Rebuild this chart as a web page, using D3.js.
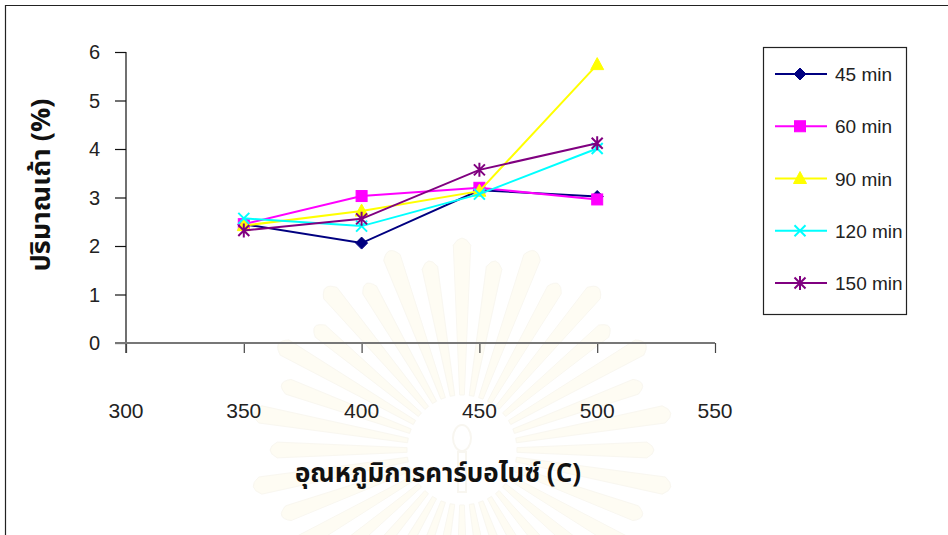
<!DOCTYPE html>
<html>
<head>
<meta charset="utf-8">
<script src="https://cdn.jsdelivr.net/npm/d3@7"></script>
<style>
  html, body { margin: 0; padding: 0; background: #fff; }
  svg { display: block; }
  .tick-label { font-family: "Liberation Sans", Arial, sans-serif; fill: #222; }
  .thai { font-family: Tahoma, "Noto Sans Thai", "Noto Sans Thai UI", "Loma", "Garuda", "Noto Sans", "DejaVu Sans", sans-serif; font-weight: bold; fill: #111; }
</style>
</head>
<body>
<svg id="chart" width="948" height="535"></svg>
<script>
// Carbonisation temperature (°C) and ash content (%) for each holding time
const temperatures = [350, 400, 450, 500];
const seriesNames = ["45 min", "60 min", "90 min", "120 min", "150 min"];
const ash45  = [2.45, 2.06, 3.15, 3.02];
const ash60  = [2.45, 3.03, 3.20, 2.96];
const ash90  = [2.42, 2.72, 3.13, 5.74];
const ash120 = [2.57, 2.41, 3.07, 4.01];
const ash150 = [2.32, 2.56, 3.57, 4.12];
const xTicks = [300, 350, 400, 450, 500, 550];
const yTicks = [0, 1, 2, 3, 4, 5, 6];
const xTitle = "อุณหภูมิการคาร์บอไนซ์ (C)";
const yTitle = "ปริมาณเถ้า (%)";

const colors  = ["#000080", "#ff00ff", "#ffff00", "#00ffff", "#800080"];
const markers = ["diamond", "square", "triangle", "cross", "star"];
const allSeries = [ash45, ash60, ash90, ash120, ash150];

const svg = d3.select("#chart");

// very faint emblem in the page background
const emblem = svg.append("g").attr("transform", "translate(462,450)");
const rays = 36;
for (let i = 0; i < rays; i++) {
  const a = (i / rays) * 2 * Math.PI;
  const r0 = 55, r1 = 185 + (i % 2) * 20, w = 0.085;
  const p = d3.path();
  p.moveTo(r0 * Math.cos(a - w * 0.5), r0 * Math.sin(a - w * 0.5));
  p.lineTo(r1 * Math.cos(a - w * 0.5), r1 * Math.sin(a - w * 0.5));
  p.quadraticCurveTo((r1 + 14) * Math.cos(a), (r1 + 14) * Math.sin(a),
                     r1 * Math.cos(a + w * 0.5), r1 * Math.sin(a + w * 0.5));
  p.lineTo(r0 * Math.cos(a + w * 0.5), r0 * Math.sin(a + w * 0.5));
  p.closePath();
  emblem.append("path").attr("d", p.toString())
    .attr("fill", "#fefcf3").attr("stroke", "#f9f7f0").attr("stroke-width", 1);
}
emblem.append("ellipse").attr("cx", 0).attr("cy", -12).attr("rx", 9).attr("ry", 13)
  .attr("fill", "none").attr("stroke", "#f8f6f0").attr("stroke-width", 2);
emblem.append("rect").attr("x", -4).attr("y", 2).attr("width", 8).attr("height", 40)
  .attr("fill", "none").attr("stroke", "#f8f6f0").attr("stroke-width", 2);

// outer chart frame
svg.append("path").attr("d", "M5.5,535 V5.5 H948")
  .attr("fill", "none").attr("stroke", "#222").attr("stroke-width", 1.2);

// scales
const x = d3.scaleLinear().domain([300, 550]).range([126, 715]);
const y = d3.scaleLinear().domain([0, 6]).range([343, 52]);

// y axis
const yAxis = svg.append("g").attr("transform", "translate(126,0)")
  .call(d3.axisLeft(y).tickValues(yTicks).tickSize(11).tickSizeOuter(0).tickFormat(""));
yAxis.select(".domain").remove();
yAxis.selectAll(".tick line").attr("stroke", "#111").attr("stroke-width", 1.2);
svg.append("line").attr("x1", 126).attr("x2", 126).attr("y1", y(6)).attr("y2", 353)
  .attr("stroke", "#111").attr("stroke-width", 1.2);
svg.append("g").selectAll("text").data(yTicks).join("text")
  .attr("class", "tick-label")
  .attr("x", 100).attr("y", d => y(d) + 7)
  .attr("text-anchor", "end").attr("font-size", 20)
  .text(d => d);

// x axis
const xAxis = svg.append("g").attr("transform", `translate(0,${y(0)})`)
  .call(d3.axisBottom(x).tickValues(xTicks).tickSize(10).tickSizeOuter(0).tickFormat(""));
xAxis.select(".domain").remove();
xAxis.selectAll(".tick line").attr("stroke", "#444").attr("stroke-width", 1.2);
svg.append("line").attr("x1", 115).attr("x2", x(550)).attr("y1", y(0)).attr("y2", y(0))
  .attr("stroke", "#777").attr("stroke-width", 2);
svg.append("g").selectAll("text").data(xTicks).join("text")
  .attr("class", "tick-label")
  .attr("x", d => x(d)).attr("y", 418)
  .attr("text-anchor", "middle").attr("font-size", 21)
  .text(d => d);

// axis titles
svg.append("text").attr("class", "thai")
  .attr("x", 438).attr("y", 482).attr("text-anchor", "middle").attr("font-size", 26)
  .text(xTitle);
svg.append("text").attr("class", "thai")
  .attr("transform", "translate(50,185) rotate(-90)")
  .attr("text-anchor", "middle").attr("font-size", 27)
  .text(yTitle);

// marker shapes
function drawMarker(g, type, color, cx, cy) {
  if (type === "diamond") {
    g.append("path").attr("d", `M${cx},${cy - 6}L${cx + 6},${cy}L${cx},${cy + 6}L${cx - 6},${cy}Z`)
      .attr("fill", color).attr("stroke", color);
  } else if (type === "square") {
    g.append("rect").attr("x", cx - 5.5).attr("y", cy - 5.5).attr("width", 11).attr("height", 11)
      .attr("fill", color).attr("stroke", color);
  } else if (type === "triangle") {
    g.append("path").attr("d", `M${cx},${cy - 7}L${cx + 6.5},${cy + 5}L${cx - 6.5},${cy + 5}Z`)
      .attr("fill", color).attr("stroke", color);
  } else if (type === "cross") {
    g.append("path").attr("d", `M${cx - 5.5},${cy - 5.5}L${cx + 5.5},${cy + 5.5}M${cx - 5.5},${cy + 5.5}L${cx + 5.5},${cy - 5.5}`)
      .attr("stroke", color).attr("stroke-width", 2).attr("fill", "none");
  } else if (type === "star") {
    g.append("path").attr("d",
      `M${cx - 5.5},${cy - 5.5}L${cx + 5.5},${cy + 5.5}M${cx - 5.5},${cy + 5.5}L${cx + 5.5},${cy - 5.5}M${cx},${cy - 7}L${cx},${cy + 7}`)
      .attr("stroke", color).attr("stroke-width", 2).attr("fill", "none");
  }
}

// series lines and markers
const line = d3.line().x((d, i) => x(temperatures[i])).y(d => y(d));
allSeries.forEach((vals, s) => {
  const g = svg.append("g");
  g.append("path").datum(vals).attr("d", line)
    .attr("fill", "none").attr("stroke", colors[s]).attr("stroke-width", 2);
  vals.forEach((v, i) => drawMarker(g, markers[s], colors[s], x(temperatures[i]), y(v)));
});

// legend
const legend = svg.append("g");
legend.append("rect").attr("x", 763.5).attr("y", 47.5).attr("width", 143).attr("height", 267)
  .attr("fill", "#fff").attr("stroke", "#222").attr("stroke-width", 1.2);
const legendY = d3.scalePoint().domain(seriesNames).range([74, 283]);
seriesNames.forEach((name, s) => {
  const ly = legendY(name);
  legend.append("line").attr("x1", 775).attr("x2", 827).attr("y1", ly).attr("y2", ly)
    .attr("stroke", colors[s]).attr("stroke-width", 2);
  drawMarker(legend, markers[s], colors[s], 800, ly);
  legend.append("text").attr("class", "tick-label")
    .attr("x", 835).attr("y", ly + 7).attr("font-size", 19)
    .text(name);
});
</script>
</body>
</html>
